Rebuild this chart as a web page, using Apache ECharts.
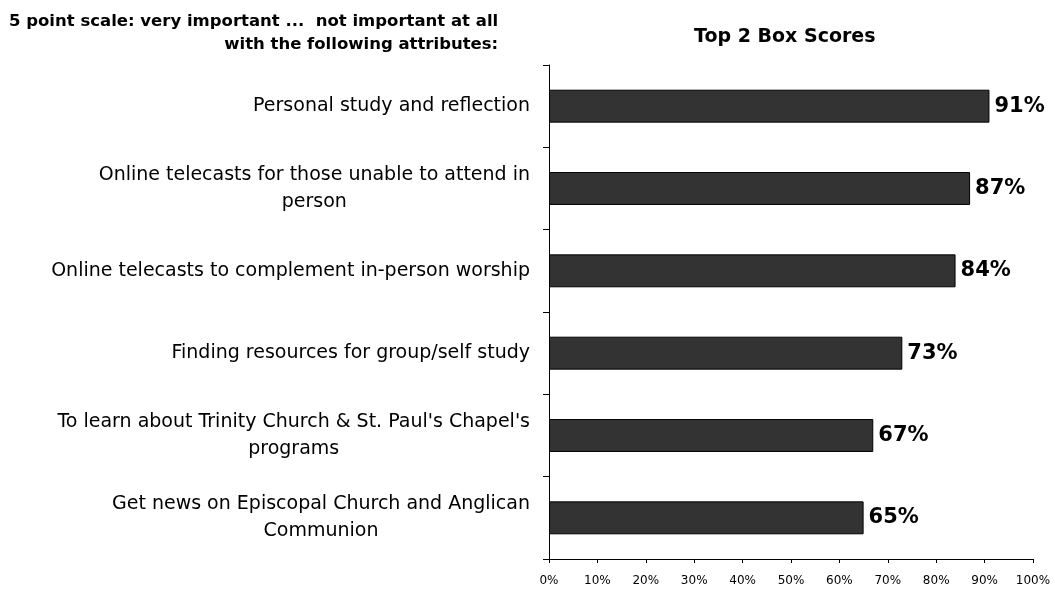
<!DOCTYPE html>
<html>
<head>
<meta charset="utf-8">
<style>
  html, body { margin: 0; padding: 0; background: #ffffff; }
  #chart { width: 1055px; height: 589px; }
</style>
<script src="https://cdn.jsdelivr.net/npm/echarts@6/dist/echarts.min.js"></script>
</head>
<body>
<div id="chart"></div>
<script>
// Attributes rated on a 5 point scale (line breaks as they wrap on the axis)
const categories = [
  'Personal study and reflection',
  'Online telecasts for those unable to attend in\nperson',
  'Online telecasts to complement in-person worship',
  'Finding resources for group/self study',
  'To learn about Trinity Church & St. Paul\'s Chapel\'s\nprograms',
  'Get news on Episcopal Church and Anglican\nCommunion'
];

// Top 2 box scores, percent
const scores = [91, 87, 84, 73, 67, 65];

// Value axis ticks
const xTicks = { min: 0, max: 100, interval: 10 };

// Heading lines above the category labels
const headingLines = [
  '5 point scale: very important ...  not important at all',
  'with the following attributes:'
];

const FONT = '"DejaVu Sans", "Liberation Sans", Arial, sans-serif';

const chart = echarts.init(document.getElementById('chart'), null, { renderer: 'canvas' });

chart.setOption({
  backgroundColor: '#ffffff',
  animation: false,
  title: [
    {
      // each line right-aligned inside the block
      text: headingLines.map(function (l) { return '{h|' + l + '}'; }).join('\n'),
      left: 4,
      top: 5,
      textStyle: {
        rich: {
          h: { align: 'right', fontFamily: FONT, fontSize: 16.5, fontWeight: 'bold', color: '#000', lineHeight: 23 }
        }
      }
    },
    {
      text: 'Top 2 Box Scores',
      left: 689,
      top: 20,
      textStyle: { fontFamily: FONT, fontSize: 19, fontWeight: 'bold', color: '#000', lineHeight: 24 }
    }
  ],
  grid: { left: 549, right: 22, top: 65, bottom: 30, containLabel: false },
  xAxis: {
    type: 'value',
    min: xTicks.min,
    max: xTicks.max,
    interval: xTicks.interval,
    axisLine: { show: true, lineStyle: { color: '#000', width: 1 } },
    axisTick: { show: true, length: 4, lineStyle: { color: '#000' } },
    splitLine: { show: false },
    axisLabel: {
      formatter: '{value}%',
      fontFamily: FONT,
      fontSize: 12,
      color: '#000',
      margin: 16
    }
  },
  yAxis: {
    type: 'category',
    inverse: true,
    data: categories,
    axisLine: { show: true, lineStyle: { color: '#000', width: 1 } },
    axisTick: { show: true, length: 6, lineStyle: { color: '#000' } },
    axisLabel: {
      margin: 19,
      interval: 0,
      align: 'right',
      formatter: function (v) {
        return v.split('\n').map(function (l) { return '{c|' + l + '}'; }).join('\n');
      },
      rich: {
        c: { align: 'center', fontFamily: FONT, fontSize: 19, color: '#000', lineHeight: 27 }
      }
    }
  },
  series: [
    {
      type: 'bar',
      data: scores,
      barCategoryGap: '60%',
      itemStyle: { color: '#333333', borderColor: '#000000', borderWidth: 1 },
      label: {
        show: true,
        position: 'right',
        distance: 5,
        formatter: '{c}%',
        fontFamily: FONT,
        fontSize: 21,
        fontWeight: 'bold',
        color: '#000'
      }
    }
  ]
});
</script>
</body>
</html>
